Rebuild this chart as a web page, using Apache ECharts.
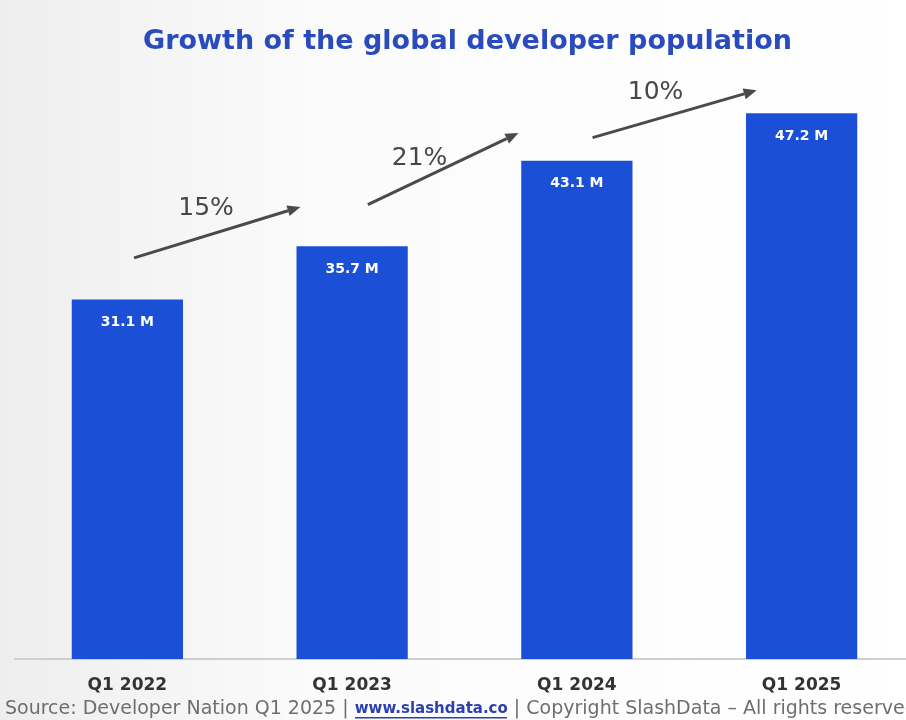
<!DOCTYPE html>
<html>
<head>
<meta charset="utf-8">
<script src="https://cdn.jsdelivr.net/npm/echarts@6/dist/echarts.min.js"></script>
<style>
  html, body { margin: 0; padding: 0; }
  #main { width: 906px; height: 720px; }
</style>
</head>
<body>
<div id="main"></div>
<script>
// chart data
const quarters = ['Q1 2022', 'Q1 2023', 'Q1 2024', 'Q1 2025']
const developers = [31.1, 35.7, 43.1, 47.2]
// growth arrows: [x0, y0, x1, y1] in category-index / millions units
const growthArrows = [
  [0.03, 34.7, 0.77, 39.1],
  [1.07, 39.3, 1.74, 45.5],
  [2.07, 45.1, 2.80, 49.2]
]
const growthLabels = ['15%', '21%', '10%']
const growthLabelPos = [[0.35, 39.0], [1.30, 43.3], [2.35, 49.0]]

const chart = echarts.init(document.getElementById('main'))

const arrowData = growthArrows.map((a, i) => a.concat([i]))

const option = {
  backgroundColor: new echarts.graphic.LinearGradient(0, 0, 1, 0, [
    { offset: 0, color: '#eeeeee' },
    { offset: 0.35, color: '#fbfbfb' },
    { offset: 1, color: '#ffffff' }
  ]),
  title: {
    text: 'Growth of the global developer population',
    left: 138,
    top: 23,
    textStyle: {
      color: '#2a4bbd',
      fontSize: 27,
      fontWeight: 'bold',
      fontFamily: 'DejaVu Sans'
    }
  },
  grid: {
    left: 15,
    top: 81,
    width: 899,
    height: 578,
    containLabel: false,
    outerBoundsMode: 'none'
  },
  xAxis: [
    {
      type: 'category',
      data: quarters,
      axisLine: { lineStyle: { color: '#cfcfcf', width: 2 } },
      axisTick: { show: false },
      axisLabel: {
        color: '#333333',
        fontSize: 17,
        fontWeight: 'bold',
        fontFamily: 'DejaVu Sans',
        margin: 18
      }
    },
    {
      type: 'value',
      min: -0.5,
      max: 3.5,
      show: false
    }
  ],
  yAxis: {
    type: 'value',
    min: 0,
    max: 50,
    show: false
  },
  series: [
    {
      type: 'bar',
      data: developers,
      barWidth: '49.5%',
      itemStyle: { color: '#1b4fd6' },
      label: {
        show: true,
        position: 'insideTop',
        distance: 16,
        color: '#ffffff',
        fontSize: 14,
        fontWeight: 'bold',
        fontFamily: 'DejaVu Sans',
        formatter: p => p.value + ' M'
      }
    },
    {
      type: 'custom',
      xAxisIndex: 1,
      yAxisIndex: 0,
      data: arrowData,
      silent: true,
      renderItem: (params, api) => {
        const p0 = api.coord([api.value(0), api.value(1)])
        const p1 = api.coord([api.value(2), api.value(3)])
        const i = api.value(4)
        const ang = Math.atan2(p1[1] - p0[1], p1[0] - p0[0])
        const len = 13, half = 5.5
        const bx = p1[0] - len * Math.cos(ang)
        const by = p1[1] - len * Math.sin(ang)
        const nx = -Math.sin(ang), ny = Math.cos(ang)
        const lp = api.coord(growthLabelPos[i])
        return {
          type: 'group',
          children: [
            {
              type: 'line',
              shape: { x1: p0[0], y1: p0[1], x2: bx, y2: by },
              style: { stroke: '#4a4a4a', lineWidth: 3 }
            },
            {
              type: 'polygon',
              shape: {
                points: [
                  [p1[0], p1[1]],
                  [bx + nx * half, by + ny * half],
                  [bx - nx * half, by - ny * half]
                ]
              },
              style: { fill: '#4a4a4a' }
            },
            {
              type: 'text',
              x: lp[0],
              y: lp[1],
              style: {
                text: growthLabels[i],
                fill: '#474747',
                font: '25px "DejaVu Sans"',
                align: 'center',
                verticalAlign: 'middle'
              }
            }
          ]
        }
      }
    }
  ],
  graphic: [
    {
      type: 'text',
      left: 5,
      top: 700,
      style: {
        text: '{a|Source: Developer Nation Q1 2025 | }{b|www.slashdata.co}{a| | Copyright SlashData – All rights reserved}',
        rich: {
          a: { fill: '#6e6e6e', fontSize: 19, fontFamily: 'DejaVu Sans' },
          b: { fill: '#2b3fae', fontSize: 15, fontFamily: 'DejaVu Sans', fontWeight: 'bold' }
        }
      }
    },
    {
      type: 'rect',
      left: 355,
      top: 717,
      shape: { width: 152, height: 1.5 },
      style: { fill: '#2b3fae' }
    }
  ]
}

chart.setOption(option)
window.addEventListener('resize', () => chart.resize())
</script>
</body>
</html>
